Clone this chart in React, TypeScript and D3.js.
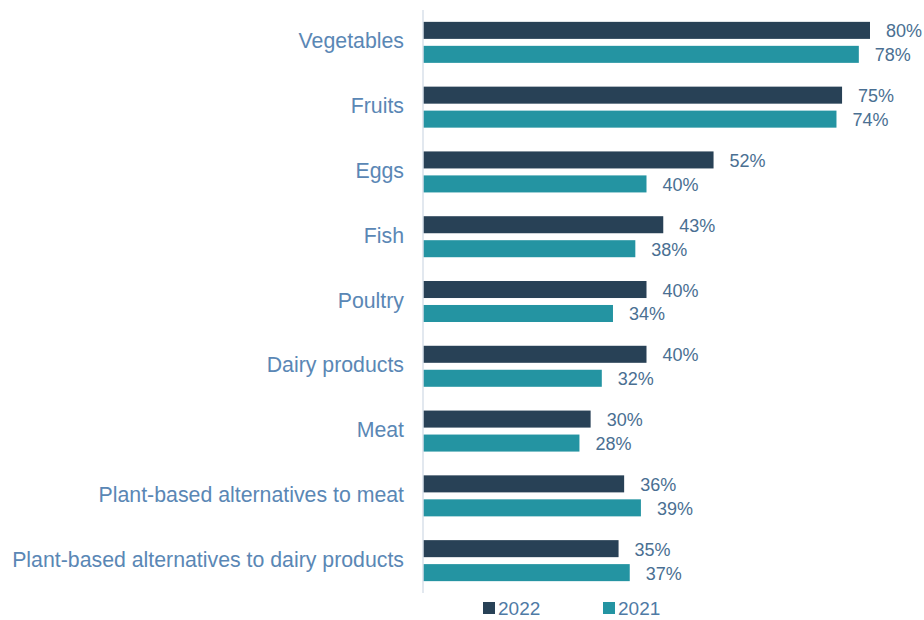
import { useEffect, useRef } from 'react'
import * as d3 from 'd3'

const categories = [
  'Vegetables',
  'Fruits',
  'Eggs',
  'Fish',
  'Poultry',
  'Dairy products',
  'Meat',
  'Plant-based alternatives to meat',
  'Plant-based alternatives to dairy products',
]
const seriesNames = ['2022', '2021']
const values2022 = [80, 75, 52, 43, 40, 40, 30, 36, 35]
const values2021 = [78, 74, 40, 38, 34, 32, 28, 39, 37]
const seriesColors = ['#284156', '#2494a2']

export default function App() {
  const svgRef = useRef<SVGSVGElement>(null)

  useEffect(() => {
    const width = 924,
      height = 620

    const svg = d3.select(svgRef.current).attr('width', width).attr('height', height)
    svg.selectAll('*').remove()

    const table = categories.map((c, i) => ({
      cat: c,
      vals: [values2022[i], values2021[i]],
    }))

    // x: 0 sits on the axis line
    const x = d3.scaleLinear().domain([0, 80]).range([423, 870])
    const y0 = d3
      .scaleBand<string>()
      .domain(categories)
      .range([10, 593])
      .paddingInner(0.367)
      .paddingOuter(0.183)
    const y1 = d3
      .scaleBand<string>()
      .domain(seriesNames)
      .range([0, y0.bandwidth()])
      .paddingInner(0.29)

    // category labels
    svg
      .append('g')
      .selectAll('text')
      .data(categories)
      .join('text')
      .attr('x', 404)
      .attr('y', (d) => (y0(d) as number) + y0.bandwidth() / 2 - 1)
      .attr('text-anchor', 'end')
      .attr('dominant-baseline', 'central')
      .style('font-family', '"Liberation Sans", Arial, sans-serif')
      .style('font-size', '21.3px')
      .style('fill', '#5a87b5')
      .text((d) => d)

    const groups = svg
      .append('g')
      .selectAll('g')
      .data(table)
      .join('g')
      .attr('transform', (d) => `translate(0,${y0(d.cat)})`)

    const items = groups
      .selectAll('g')
      .data((d) => d.vals.map((v, k) => ({ v, s: seriesNames[k], k })))
      .join('g')

    items
      .append('rect')
      .attr('x', x(0))
      .attr('y', (d) => y1(d.s) as number)
      .attr('width', (d) => x(d.v) - x(0))
      .attr('height', y1.bandwidth())
      .style('fill', (d) => seriesColors[d.k])

    items
      .append('text')
      .attr('x', (d) => x(d.v) + 16)
      .attr('y', (d) => (y1(d.s) as number) + y1.bandwidth() / 2 + 1)
      .attr('dominant-baseline', 'central')
      .style('font-family', '"Liberation Sans", Arial, sans-serif')
      .style('font-size', '18px')
      .style('fill', '#4a6f92')
      .text((d) => d.v + '%')

    // axis line
    svg
      .append('line')
      .attr('x1', 423)
      .attr('x2', 423)
      .attr('y1', 10)
      .attr('y2', 593)
      .style('stroke', '#d9e1ea')
      .style('stroke-width', 1.5)

    // legend
    const legendX = [483, 603]
    const legend = svg
      .append('g')
      .selectAll('g')
      .data(seriesNames)
      .join('g')
      .attr('transform', (_, i) => `translate(${legendX[i]},602)`)
    legend
      .append('rect')
      .attr('width', 12)
      .attr('height', 12)
      .style('fill', (_, i) => seriesColors[i])
    legend
      .append('text')
      .attr('x', 15)
      .attr('y', 6)
      .attr('dominant-baseline', 'central')
      .style('font-family', '"Liberation Sans", Arial, sans-serif')
      .style('font-size', '19px')
      .style('fill', '#4f7aa5')
      .text((d) => d)
  }, [])

  return <svg ref={svgRef} style={{ position: 'absolute', left: 0, top: 0 }}></svg>
}
